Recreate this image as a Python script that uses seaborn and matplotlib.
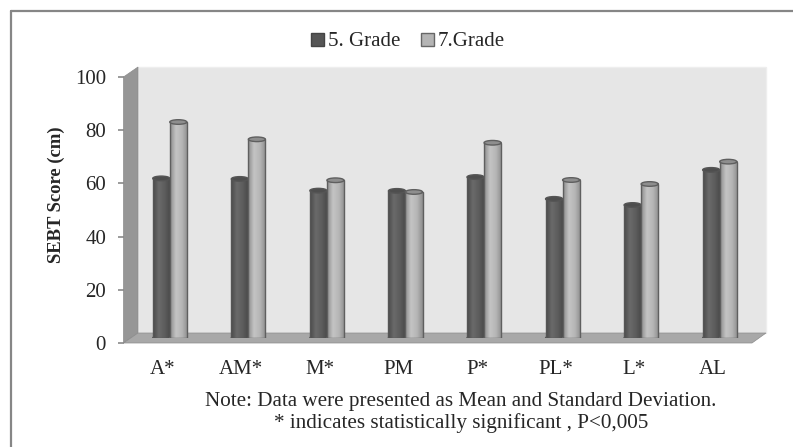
import numpy as np
import pandas as pd
import matplotlib
matplotlib.use("Agg")
import matplotlib.pyplot as plt
import seaborn as sns
from matplotlib.colors import LinearSegmentedColormap
from matplotlib.lines import Line2D
from matplotlib.patches import Ellipse, Polygon, Patch

directions = ["A*", "AM*", "M*", "PM", "P*", "PL*", "L*", "AL"]
grade_5 = [60, 59.8, 55.4, 55.3, 60.5, 52.3, 50, 63.2]
grade_7 = [81.2, 74.7, 59.3, 54.9, 73.4, 59.4, 57.9, 66.3]
y_ticks = [0, 20, 40, 60, 80, 100]

W, H = 793, 447
FONT = "Liberation Serif"
GRAY = "#8a8a8a"
EDGE = "#5f5f5f"


def box(x0, y_top, x1, y_bot):
    # pixel box from the top left corner -> figure fraction
    return [x0 / W, 1 - y_bot / H, (x1 - x0) / W, (y_bot - y_top) / H]


def px(x, y):
    return (x / W, 1 - y / H)


sns.set_theme(style="white")
plt.rcParams["font.family"] = FONT

df = pd.DataFrame(
    {
        "direction": directions * 2,
        "score": grade_5 + grade_7,
        "grade": ["5. Grade"] * 8 + ["7.Grade"] * 8,
    }
)

fig = plt.figure(figsize=(W / 100, H / 100), dpi=100, facecolor="white")

# outer frame, only top and left are inside the picture
for xs, ys in [((10.5, 10.5), (447, 11)), ((10.5, 793), (11, 11))]:
    fig.add_artist(Line2D([x / W for x in xs], [1 - y / H for y in ys], color="#868686", lw=1.6, zorder=-2))

# 3d walls
fig.add_artist(Polygon([px(138, 67), px(766, 67), px(766, 333), px(138, 333)], fc="#e6e6e6", ec="#eeeeee", lw=1, zorder=-2))
fig.add_artist(Polygon([px(123.5, 77), px(138, 67), px(138, 333), px(123.5, 343)], fc="#969696", ec="#8c8c8c", lw=0.5, zorder=-1))
fig.add_artist(Polygon([px(123.5, 343), px(138, 333), px(766, 333), px(752, 343)], fc="#a8a8a8", ec="#8c8c8c", lw=0.5, zorder=-1))

# front axis, only carries ticks and labels
ax = fig.add_axes(box(123.5, 77, 752, 343))
ax.patch.set_alpha(0)
ax.set_xlim(-0.5, 7.5)
ax.set_ylim(0, 100)
ax.set_xticks(range(len(directions)))
ax.set_xticklabels(directions, fontsize=15)
ax.set_yticks(y_ticks)
ax.tick_params(axis="y", length=4.3, width=1.2, color=GRAY, labelsize=15, pad=8.3, left=True)
ax.tick_params(axis="x", length=0, pad=12)
ax.set_ylabel("SEBT Score (cm)", fontsize=13.4, fontweight="bold")
ax.yaxis.set_label_coords(-0.093, 0.556)
sns.despine(ax=ax, left=True, bottom=True, top=True, right=True)

# bars sit half way into the depth of the box
bar_ax = fig.add_axes(box(130.5, 72, 759, 338))
bar_ax.patch.set_alpha(0)
sns.barplot(
    data=df, x="direction", y="score", hue="grade", order=directions,
    palette=["#5e5e5e", "#b4b4b4"], width=0.434, gap=0, legend=False, ax=bar_ax,
)
bar_ax.axis("off")

# cylinder shading
shades = [
    LinearSegmentedColormap.from_list("d", ["#4c4c4c", "#6a6a6a", "#5c5c5c", "#484848"]),
    LinearSegmentedColormap.from_list("l", ["#8c8c8c", "#c4c4c4", "#b6b6b6", "#8e8e8e"]),
]
ramp = np.linspace(0, 1, 64).reshape(1, -1)
ell_h = 4.6 / 2.66
bars = [b for b in bar_ax.patches if b.get_height() > 0]
for i, bar in enumerate(bars):
    x0, w, h = bar.get_x(), bar.get_width(), bar.get_height()
    light = i >= 8
    cmap = shades[1] if light else shades[0]
    edge = EDGE if light else "#555555"
    z = 3 + i * 0.01
    bar_ax.add_patch(Ellipse((x0 + w / 2, 0), w, ell_h, fc=cmap(0.5), ec=edge, lw=1.0, zorder=z))
    bar_ax.imshow(ramp, extent=(x0, x0 + w, 0, h), cmap=cmap, aspect="auto", zorder=z + 0.001)
    bar.set_facecolor("none")
    bar.set_edgecolor(edge)
    bar.set_linewidth(1.0)
    bar.set_zorder(z + 0.002)
    bar_ax.add_patch(Ellipse((x0 + w / 2, h), w, ell_h, fc="#8e8e8e" if light else "#4e4e4e", ec=edge, lw=1.0, zorder=z + 0.003))
bar_ax.set_xlim(-0.5, 7.5)
bar_ax.set_ylim(0, 100)

# legend
handles = [
    Patch(fc="#555555", ec="#444444", label="5. Grade"),
    Patch(fc="#b4b4b4", ec="#666666", label="7.Grade"),
]
fig.legend(
    handles=handles, loc="center", bbox_to_anchor=px(408, 42), ncol=2, frameon=False,
    fontsize=15, handlelength=0.6, handleheight=0.6, handletextpad=0.2, columnspacing=1.0,
)

# note under the chart
fig.text(*px(460.5, 401.5), "Note: Data were presented as Mean and Standard Deviation.", fontsize=15.2, ha="center", va="center")
fig.text(*px(460.7, 423.5), "* indicates statistically significant , P<0,005", fontsize=15.2, ha="center", va="center")

fig.savefig("out.png", dpi=100)
